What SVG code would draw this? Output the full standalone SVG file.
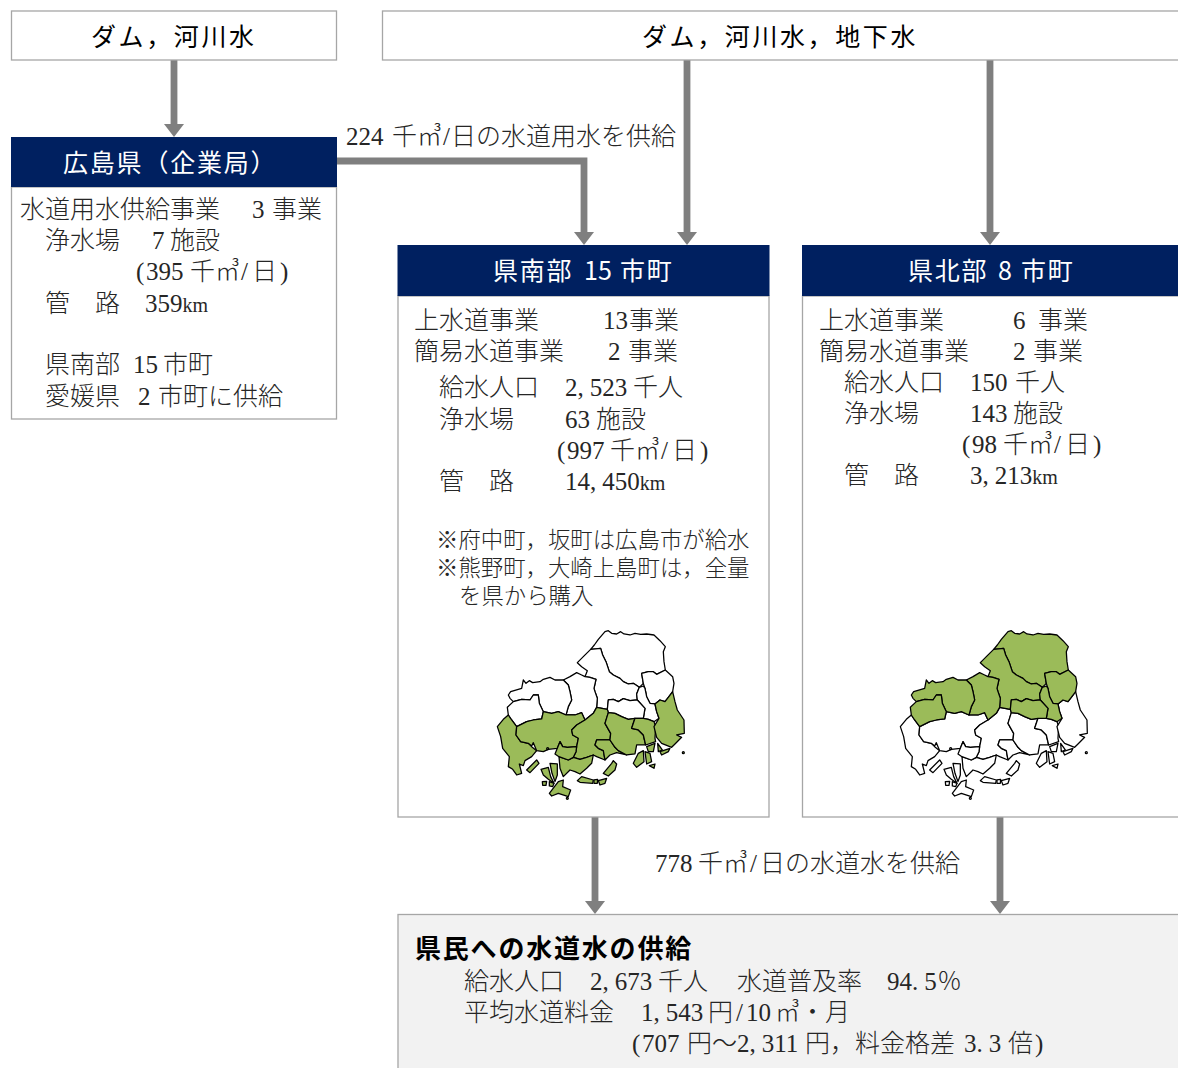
<svg xmlns="http://www.w3.org/2000/svg" xmlns:xlink="http://www.w3.org/1999/xlink" width="1178" height="1068" viewBox="0 0 1178 1068">
<style>
text{font-family:"Liberation Serif","Noto Sans CJK JP",serif;font-size:25px;fill:#262626;font-weight:300}
.s{font-size:22.4px}
.k{font-size:20px}
.g{font-family:"Noto Sans CJK JP","Noto Sans",sans-serif;fill:#000;font-weight:400;font-size:25px;letter-spacing:2.6px}
.h{font-family:"Noto Sans CJK JP","Noto Sans",sans-serif;fill:#fff;font-weight:400;font-size:25px;letter-spacing:1.8px}
.b{font-family:"Noto Sans CJK JP","Noto Sans",sans-serif;fill:#000;font-weight:700;font-size:26px;letter-spacing:1.8px}
.box{fill:#fff;stroke:#a6a6a6;stroke-width:1.3}
.hd{fill:#002060;stroke:none}
.c{fill:none;stroke:#7f7f7f;stroke-width:6.8;marker-end:url(#ah)}
.mp{stroke:#000;stroke-width:3.8;stroke-linejoin:round}
</style>
<defs>
<marker id="ah" markerUnits="userSpaceOnUse" markerWidth="14" markerHeight="20" viewBox="0 0 14 20" refX="1" refY="10" orient="auto"><path d="M0 0L13 10L0 20Z" fill="#7f7f7f"/></marker>
<g id="north">
<polygon points="375,35 385,32 395,40 410,42 422,35 432,42 450,45 465,40 482,43 500,42 522,45 540,62 556,80 550,95 552,125 556,150 530,163 520,155 505,155 485,160 490,190 478,202 460,190 445,192 430,185 420,175 400,165 388,155 378,125 368,105 362,85 332,88 343,75 355,58"/>
<polygon points="292,128 310,110 332,88 362,85 368,105 378,125 388,155 400,165 420,175 430,185 445,192 460,190 478,202 470,222 472,240 450,242 430,236 415,245 400,238 385,240 382,268 350,262 352,235 345,215 342,205 348,178 330,172 315,170 322,152 305,140"/>
<polygon points="485,160 505,155 520,155 530,163 556,150 578,170 582,190 578,215 565,232 555,245 540,240 525,252 510,250 500,230 495,205 490,190"/>
<polygon points="478,202 490,198 495,205 500,230 510,250 525,252 530,275 537,295 522,305 505,298 490,295 495,265 472,240 470,222"/>
<polygon points="385,240 400,238 415,245 430,236 450,242 472,240 495,265 490,295 465,295 445,298 425,290 405,280 385,278 382,268"/>
<polygon points="250,180 270,170 290,158 305,165 315,170 330,172 348,178 342,205 345,215 352,235 350,262 340,280 315,300 305,278 285,285 258,285 265,260 275,240 270,215 265,195"/>
<polygon points="130,180 138,190 148,182 158,188 180,185 190,178 210,172 225,180 250,180 265,195 270,215 275,240 265,260 258,285 235,275 215,280 190,275 178,250 175,225 160,225 150,240 125,238 100,245 90,235 85,225 92,215 125,205"/>
<polygon points="82,262 100,245 125,238 150,240 160,225 175,225 178,250 190,275 185,297 160,300 140,305 110,320 95,300 85,285"/>
</g>
<g id="south">
<polygon points="52,320 70,298 85,285 95,300 110,320 108,345 122,365 145,370 155,380 170,392 155,410 135,422 130,437 118,432 125,460 110,465 98,448 85,440 88,410 68,385 62,350"/>
<polygon points="110,320 140,305 160,300 185,297 190,275 215,280 235,275 258,285 285,285 305,278 315,300 290,315 275,330 278,345 295,355 290,380 262,382 248,380 240,365 232,385 205,388 190,395 170,392 160,368 155,378 145,370 122,365 108,345"/>
<polygon points="275,330 290,315 315,300 340,280 350,262 382,268 385,278 375,310 392,340 390,360 350,360 345,375 355,385 370,392 375,420 350,410 340,405 320,412 300,418 280,412 288,395 290,380 295,355 278,345"/>
<polygon points="350,360 390,360 405,382 415,392 440,405 410,398 390,405 375,420 370,392 355,385 345,375"/>
<polygon points="385,278 405,280 425,290 445,298 465,295 455,325 475,330 490,345 497,375 470,375 465,402 440,405 415,392 405,382 390,360 392,340 375,310"/>
<polygon points="465,295 490,295 505,298 522,305 527,320 525,355 527,365 497,375 490,345 475,330 455,325"/>
<polygon points="578,215 585,245 592,270 612,300 613,340 590,345 605,352 585,372 575,382 545,370 530,352 522,320 537,295 530,275 525,252 540,240 555,245 565,232"/>
<polygon points="237,410 265,420 280,412 300,418 320,412 340,405 335,430 320,445 300,462 285,455 270,450 250,470 240,445"/>
<polygon points="232,385 240,365 248,380 262,382 290,380 288,395 280,412 265,420 237,410 225,402"/>
<polygon points="140,450 170,420 177,430 150,458"/>
<polygon points="183,448 205,442 212,470 222,490 205,478 190,465"/>
<polygon points="210,430 232,432 232,465 225,485 216,460"/>
<polygon points="187,485 200,484 198,496 188,496"/>
<polygon points="208,485 222,490 218,500 208,498"/>
<polygon points="370,460 395,430 400,422 410,432 405,450 385,468"/>
<polygon points="292,482 305,470 340,480 338,490 300,487"/>
<polygon points="342,480 353,478 352,490 342,490"/>
<polygon points="355,482 380,475 375,490 360,495"/>
<polygon points="208,520 235,485 250,480 248,500 272,510 265,530 235,520 215,528"/>
<polygon points="460,430 475,400 490,392 492,425 470,442"/>
<polygon points="495,395 510,400 515,425 500,432"/>
<polygon points="508,437 525,432 522,445"/>
<polygon points="540,395 570,385 565,395 545,405"/>
<polygon points="500,380 525,370 520,395 505,395"/>
<polygon points="533,370 547,390 535,395"/>
<circle cx="610" cy="398" r="3"/>
<circle cx="262" cy="535" r="3"/>
<circle cx="203" cy="386" r="3"/>
</g>
</defs>
<g id="connectors">
<path class="c" d="M174 60V125"/>
<path class="c" d="M337 161H584V233"/>
<path class="c" d="M687 60V233"/>
<path class="c" d="M990 60V233"/>
<path class="c" d="M595 817V902"/>
<path class="c" d="M1000 817V902"/>
</g>
<g id="source-a">
<rect class="box" x="11.5" y="11" width="325" height="49"/>
<text class="g" x="91" y="46">ダム，河川水</text>
</g>
<g id="source-b">
<rect class="box" x="382.5" y="11" width="800" height="49"/>
<text class="g" x="642" y="46">ダム，河川水，地下水</text>
</g>
<g id="pref">
<rect class="box" x="11.5" y="187" width="325" height="232"/>
<rect class="hd" x="11" y="137" width="326" height="50"/>
<text class="h" x="63" y="172">広島県（企業局）</text>
<text x="20" y="218">水道用水供給事業<tspan x="252">3</tspan><tspan x="272">事業</tspan></text>
<text x="45" y="249">浄水場<tspan x="152">7</tspan><tspan x="170">施設</tspan></text>
<text x="136" y="280">(<tspan x="146">395</tspan><tspan x="190">千㎥</tspan><tspan x="241">/</tspan><tspan x="252">日</tspan><tspan x="280">)</tspan></text>
<text x="45" y="312">管<tspan x="95">路</tspan><tspan x="145">359<tspan class="k">km</tspan></tspan></text>
<text x="45" y="373">県南部<tspan x="133">15</tspan><tspan x="163">市町</tspan></text>
<text x="45" y="405">愛媛県<tspan x="138">2</tspan><tspan x="158">市町に供給</tspan></text>
</g>
<g id="south-15">
<rect class="box" x="398" y="296" width="371" height="521"/>
<rect class="hd" x="397.5" y="245" width="372" height="51"/>
<text class="h" x="493" y="280">県南部<tspan x="584" style="letter-spacing:0">15</tspan><tspan x="620">市町</tspan></text>
<text x="414" y="329">上水道事業<tspan x="603">13</tspan><tspan x="629">事業</tspan></text>
<text x="414" y="360">簡易水道事業<tspan x="608">2</tspan><tspan x="628">事業</tspan></text>
<text x="439" y="396">給水人口<tspan x="565">2,<tspan dx="6">523</tspan></tspan><tspan x="633">千人</tspan></text>
<text x="439" y="428">浄水場<tspan x="565">63</tspan><tspan x="596">施設</tspan></text>
<text x="557" y="459">(<tspan x="567">997</tspan><tspan x="610">千㎥</tspan><tspan x="661">/</tspan><tspan x="672">日</tspan><tspan x="700">)</tspan></text>
<text x="439" y="490">管<tspan x="489">路</tspan><tspan x="565">14,<tspan dx="6">450<tspan class="k">km</tspan></tspan></tspan></text>
<text class="s" x="436" y="548">※府中町，坂町は広島市が給水</text>
<text class="s" x="436" y="576">※熊野町，大崎上島町は，全量</text>
<text class="s" x="459" y="604">を県から購入</text>
<g transform="translate(480 620) scale(.3333)">
<use xlink:href="#north" href="#north" class="mp" fill="#fff"/>
<use xlink:href="#south" href="#south" class="mp" fill="#9bbb59"/>
</g>
</g>
<g id="north-8">
<rect class="box" x="802.5" y="296" width="380" height="521"/>
<rect class="hd" x="802" y="245" width="376" height="51"/>
<text class="h" x="908" y="280">県北部<tspan x="998" style="letter-spacing:0">8</tspan><tspan x="1021">市町</tspan></text>
<text x="819" y="329">上水道事業<tspan x="1013">6</tspan><tspan x="1038">事業</tspan></text>
<text x="819" y="360">簡易水道事業<tspan x="1013">2</tspan><tspan x="1033">事業</tspan></text>
<text x="844" y="391">給水人口<tspan x="970">150</tspan><tspan x="1015">千人</tspan></text>
<text x="844" y="422">浄水場<tspan x="970">143</tspan><tspan x="1013">施設</tspan></text>
<text x="962" y="453">(<tspan x="972">98</tspan><tspan x="1003">千㎥</tspan><tspan x="1054">/</tspan><tspan x="1065">日</tspan><tspan x="1093">)</tspan></text>
<text x="844" y="484">管<tspan x="894">路</tspan><tspan x="970">3,<tspan dx="6">213<tspan class="k">km</tspan></tspan></tspan></text>
<g transform="translate(883 620) scale(.3333)">
<use xlink:href="#south" href="#south" class="mp" fill="#fff"/>
<use xlink:href="#north" href="#north" class="mp" fill="#9bbb59"/>
</g>
</g>
<g id="label-224">
<text x="346" y="145">224<tspan x="392">千㎥</tspan><tspan x="443">/</tspan><tspan x="451">日の水道用水を供給</tspan></text>
</g>
<g id="label-778">
<text x="655" y="872">778<tspan x="698">千㎥</tspan><tspan x="750">/</tspan><tspan x="760">日の水道水を供給</tspan></text>
</g>
<g id="supply">
<rect x="398" y="914.500" width="790" height="170" fill="#f2f2f2" stroke="#a6a6a6" stroke-width="1.300"/>
<text class="b" x="415" y="958">県民への水道水の供給</text>
<text x="464" y="990">給水人口<tspan x="590">2,<tspan dx="6">673</tspan></tspan><tspan x="658">千人</tspan><tspan x="737">水道普及率</tspan><tspan x="887">94.<tspan dx="6">5</tspan></tspan><tspan x="937">％</tspan></text>
<text x="464" y="1021">平均水道料金<tspan x="641">1,<tspan dx="6">543</tspan></tspan><tspan x="708">円</tspan><tspan x="736">/</tspan><tspan x="746">10</tspan><tspan x="775">㎥・月</tspan></text>
<text x="632" y="1052">(<tspan x="642">707</tspan><tspan x="687">円〜</tspan><tspan x="737">2,<tspan dx="6">311</tspan></tspan><tspan x="805">円，料金格差</tspan><tspan x="964">3.<tspan dx="6">3</tspan></tspan><tspan x="1008">倍</tspan><tspan x="1035">)</tspan></text>
</g>
</svg>
